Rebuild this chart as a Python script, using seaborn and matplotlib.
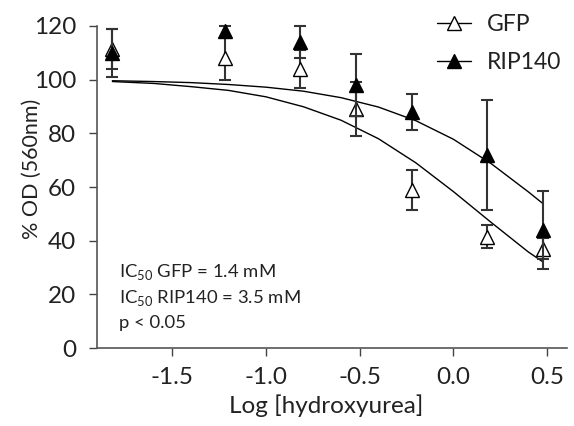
"""Dose-response chart: % OD vs Log [hydroxyurea] for GFP and RIP140"""
import matplotlib
matplotlib.use("Agg")
import matplotlib.pyplot as plt
from matplotlib.lines import Line2D
import pandas as pd
import seaborn as sns

# Measured points (log concentration, mean %OD, error)
log_dose = [-1.82, -1.22, -0.82, -0.52, -0.22, 0.18, 0.48]
gfp_mean = [111.5, 108, 104, 89, 59, 41.5, 37]
gfp_err = [7.5, 8, 7, 10, 7.5, 4.2, 4]
rip_mean = [110, 118, 114, 98, 88, 72, 44]
rip_err = [9, 2, 6, 11.5, 6.7, 20.5, 14.5]

# Fitted curves
fit_x = [-1.82, -1.6, -1.4, -1.2, -1.0, -0.8, -0.6, -0.4, -0.2, 0.0, 0.2, 0.4, 0.48]
gfp_fit = [99.3, 98.6, 97.4, 96.0, 93.6, 89.9, 84.9, 78.0, 69.0, 58.3, 46.9, 35.8, 32.0]
rip_fit = [99.6, 99.3, 98.9, 98.2, 97.2, 95.7, 93.3, 89.8, 84.7, 77.8, 68.8, 58.2, 53.7]

x_ticks = [-1.5, -1.0, -0.5, 0.0, 0.5]
y_ticks = [0, 20, 40, 60, 80, 100, 120]

sns.set_style("ticks")
plt.rcParams["font.family"] = ["Lato", "DejaVu Sans"]

fig = plt.figure(figsize=(5.74, 4.26), dpi=100)
ax = fig.add_axes([0.169, 0.183, 0.819, 0.756])

fits = pd.DataFrame({
    "x": fit_x * 2,
    "y": gfp_fit + rip_fit,
    "grupo": ["GFP"] * len(fit_x) + ["RIP140"] * len(fit_x),
})
sns.lineplot(data=fits, x="x", y="y", units="grupo", estimator=None,
             color="black", linewidth=1.0, ax=ax, legend=False)

# pontos com barras de erro
ax.errorbar(log_dose, gfp_mean, yerr=gfp_err, fmt="^", color="#333333",
            markerfacecolor="white", markeredgecolor="black", markersize=10,
            elinewidth=1.5, capsize=4, capthick=1.5, clip_on=False, zorder=3)
ax.errorbar(log_dose, rip_mean, yerr=rip_err, fmt="^", color="#333333",
            markerfacecolor="black", markeredgecolor="black", markersize=10,
            elinewidth=1.5, capsize=4, capthick=1.5, clip_on=False, zorder=4)

ax.set_xlim(-1.902, 0.607)
ax.set_ylim(0, 120)
ax.set_xticks(x_ticks)
ax.set_xticklabels([f"{v:.1f}" for v in x_ticks])
ax.set_yticks(y_ticks)
ax.tick_params(labelsize=17.5, length=6, width=1, color="#444444", labelcolor="#222222")
ax.tick_params(axis="y", pad=9)
ax.tick_params(axis="x", pad=8)
for side in ["left", "bottom"]:
    ax.spines[side].set_color("#555555")
    ax.spines[side].set_linewidth(1.2)
sns.despine(ax=ax)

ax.set_xlabel("Log [hydroxyurea]", fontsize=17.5, color="#222222")
ax.set_ylabel("% OD (560nm)", fontsize=15.5, color="#222222")
ax.yaxis.set_label_coords(-0.117, 0.557)
ax.xaxis.set_label_coords(0.487, -0.145)

ax.text(0.047, 0.236, r"IC$_{\mathregular{50}}$ GFP = 1.4 mM", transform=ax.transAxes,
        fontsize=13.3, va="center", color="#222222")
ax.text(0.047, 0.155, r"IC$_{\mathregular{50}}$ RIP140 = 3.5 mM", transform=ax.transAxes,
        fontsize=13.3, va="center", color="#222222")
ax.text(0.047, 0.078, "p < 0.05", transform=ax.transAxes, fontsize=13.3,
        va="center", color="#222222")

handles = [
    Line2D([], [], color="black", lw=1, marker="^", markersize=10,
           markerfacecolor="white", markeredgecolor="black"),
    Line2D([], [], color="black", lw=1, marker="^", markersize=10,
           markerfacecolor="black", markeredgecolor="black"),
]
leg = fig.legend(handles, ["GFP", "RIP140"], loc="upper left", bbox_to_anchor=(0.746, 0.988),
                 frameon=False, fontsize=16.5, handlelength=1.45, labelspacing=0.75,
                 handletextpad=0.7, borderaxespad=0)
for t in leg.get_texts():
    t.set_color("#222222")

fig.savefig("out.png", dpi=100)
